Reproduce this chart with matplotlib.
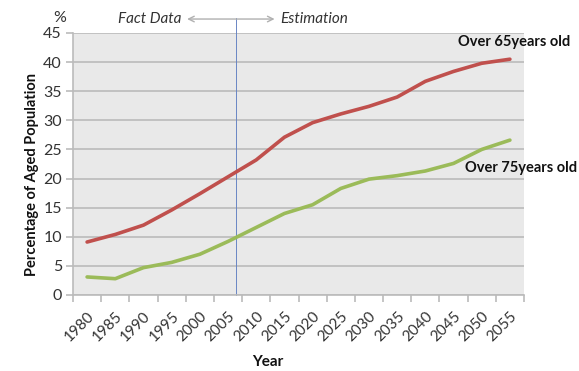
import matplotlib
matplotlib.use("Agg")
import matplotlib.pyplot as plt
import numpy as np

years = ["1980", "1985", "1990", "1995", "2000", "2005", "2010", "2015",
         "2020", "2025", "2030", "2035", "2040", "2045", "2050", "2055"]
over65 = [9.1, 10.4, 12.0, 14.6, 17.4, 20.3, 23.2, 27.1,
          29.6, 31.1, 32.4, 34.0, 36.7, 38.4, 39.8, 40.5]
over75 = [3.1, 2.8, 4.7, 5.6, 7.0, 9.2, 11.6, 14.0,
          15.5, 18.3, 19.9, 20.5, 21.3, 22.6, 25.0, 26.6]
yticks = [0, 5, 10, 15, 20, 25, 30, 35, 40, 45]

plt.rcParams['font.family'] = ['Lato', 'DejaVu Sans']

fig = plt.figure(figsize=(5.79, 3.71), dpi=100)
ax = fig.add_axes([73/579, 1-295/371, (524-73)/579, (295-33)/371])
ax.set_facecolor('#E9E9E9')

x = np.arange(len(years))
ax.plot(x, over65, color='#C0504D', lw=2.6, solid_capstyle='round', zorder=3)
ax.plot(x, over75, color='#9BBB59', lw=2.6, solid_capstyle='round', zorder=3)

ax.set_xlim(-0.5, len(years) - 0.5)
ax.set_ylim(0, 45)
ax.set_yticks(yticks)
ax.set_yticklabels([str(v) for v in yticks], fontsize=11.5, color='#333333')
ax.yaxis.grid(True, color='#BBBBBB', lw=1.2)
ax.set_axisbelow(True)

ax.set_xticks(x)
ax.set_xticklabels(years, rotation=45, ha='right', va='top', rotation_mode='anchor',
                   fontsize=11, color='#333333')
ax.set_xticks(np.arange(-0.5, len(years)), minor=True)
ax.tick_params(axis='x', which='major', length=0, pad=10)
ax.tick_params(axis='x', which='minor', length=5, color='#BBBBBB', width=1.2)
ax.tick_params(axis='y', length=5, color='#BBBBBB', width=1.2, pad=3)

for s in ['top', 'right']:
    ax.spines[s].set_visible(False)
for s in ['left', 'bottom']:
    ax.spines[s].set_color('#BBBBBB')
    ax.spines[s].set_linewidth(1.2)

# divider between fact data and estimation
ax.plot([5.3, 5.3], [0, 47.6], color='#6A86C4', lw=0.7, clip_on=False, zorder=2)
ax.annotate('', xy=(3.45, 47.4), xytext=(6.75, 47.4), xycoords='data',
            arrowprops=dict(arrowstyle='<->', color='#B0B0B0', lw=1.0),
            annotation_clip=False)
ax.text(3.35, 47.4, 'Fact Data', style='italic', fontsize=11, color='#333333',
        ha='right', va='center', clip_on=False)
ax.text(6.85, 47.4, 'Estimation', style='italic', fontsize=11, color='#333333',
        ha='left', va='center', clip_on=False)

fig.text(60/579, 1-18/371, '%', fontsize=11.5, color='#333333', ha='center', va='center')
fig.text(514/579, 1-42/371, 'Over 65years old', fontsize=10.5, fontweight='bold',
         color='#111111', ha='center', va='center')
fig.text(521/579, 1-168/371, 'Over 75years old', fontsize=10.5, fontweight='bold',
         color='#111111', ha='center', va='center')

fig.text(32/579, 1-175/371, 'Percentage of Aged Population', rotation=90, fontsize=10.5,
         fontweight='bold', color='#111111', ha='center', va='center')
fig.text(268/579, 1-362/371, 'Year', fontsize=11, fontweight='bold',
         color='#111111', ha='center', va='center')

fig.savefig('out.png', dpi=100)
